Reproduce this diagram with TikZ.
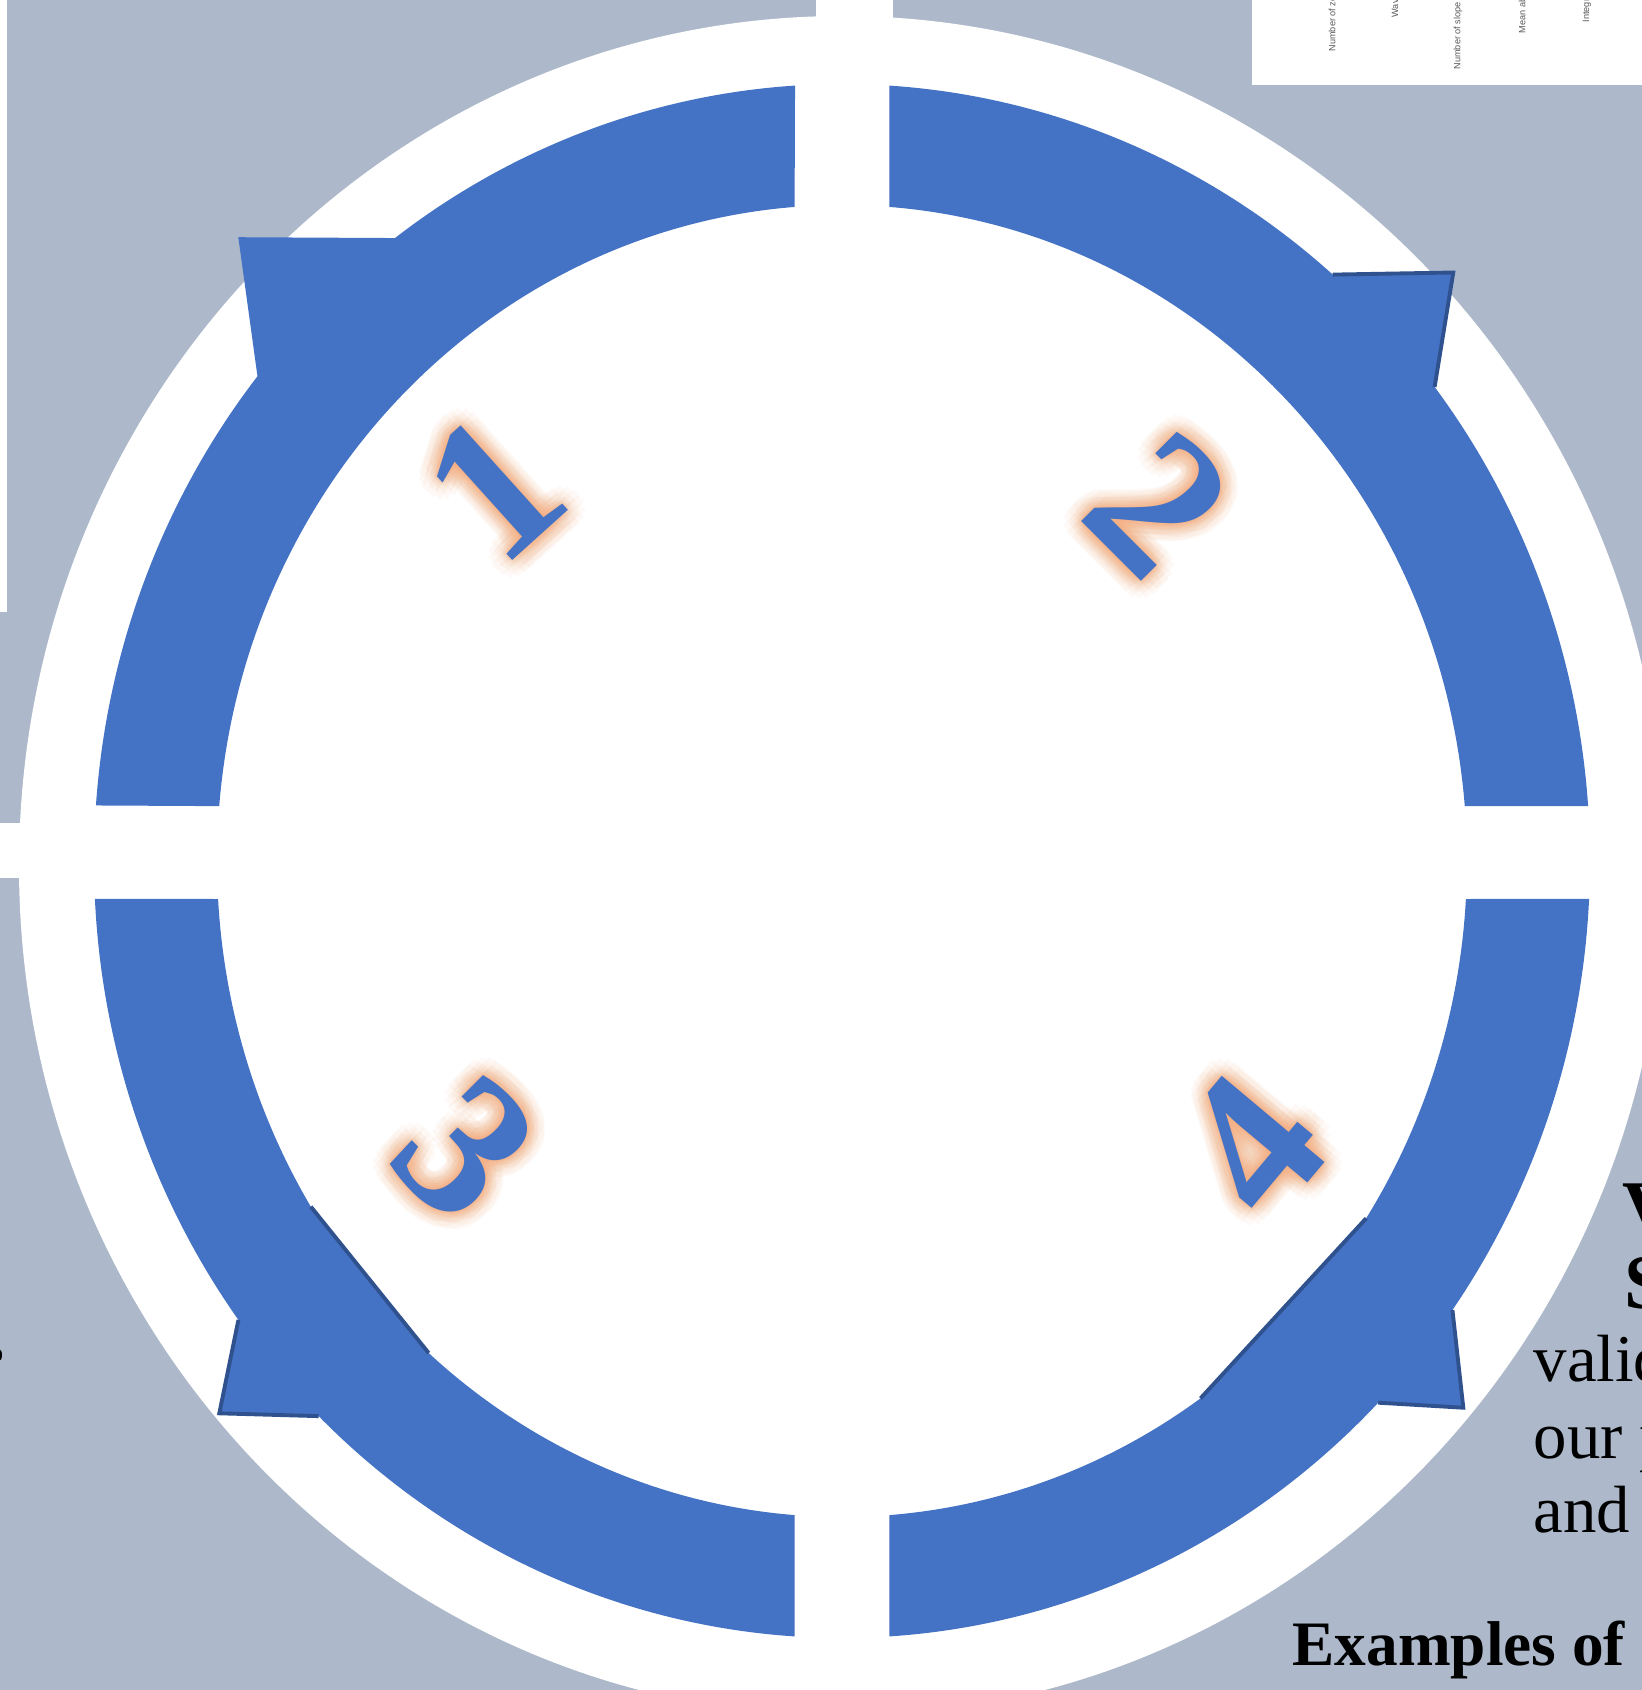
\documentclass[tikz,border=0pt]{standalone}
\usepackage{fontspec}
\setmainfont{Liberation Serif}
\newfontfamily\chartfont{Liberation Sans}
\usepackage{tikz}
\definecolor{bgcol}{HTML}{ADB9CA}
\definecolor{ringcol}{HTML}{4472C4}
\definecolor{edgecol}{HTML}{2F528F}
\definecolor{glowcol}{HTML}{F4B183}
\colorlet{ticklabelcol}{black!65}
\tikzset{
  segment/.style={fill=ringcol},
  rimline/.style={draw=edgecol, line width=1.1pt},
  digit/.style={font=\bfseries\fontsize{58}{58}\selectfont, inner sep=0pt, text=ringcol},
  glow/.style={digit, text=glowcol, opacity=0.065},
  ticklabel/.style={font=\chartfont\fontsize{2.6}{2.6}\selectfont, text=ticklabelcol,
    rotate=90, anchor=west, inner sep=0pt},
  bodytext/.style={font=\fontsize{19}{19}\selectfont, anchor=base west, inner sep=0pt},
  headtext/.style={font=\bfseries\fontsize{22}{22}\selectfont, anchor=base west, inner sep=0pt}
}

\begin{document}
\begin{tikzpicture}[x=0.01cm, y=0.01cm]

  \useasboundingbox (0,0) rectangle (1642,-1690);
  \clip (0,0) rectangle (1642,-1690);

  % Background.
  \fill[bgcol] (0,0) rectangle (1642,-1690);
  \fill[white] (842,-866) ellipse [x radius=823, y radius=850];
  \fill[white] (0,0) rectangle (7,-612);
  \fill[white] (0,-823) rectangle (120,-878);
  \fill[white] (816,0) rectangle (893,-60);
  \fill[black] (-1,-1355) ellipse [x radius=3, y radius=6];

  % Chart scrap, top right.
  \fill[white] (1252,0) rectangle (1642,-85);
  \node[ticklabel] (lab1) at (1332,-52) {Number of zer};
  \node[ticklabel] (lab2) at (1395,-18) {Wave};
  \node[ticklabel] (lab3) at (1458,-70) {Number of slope si};
  \node[ticklabel] (lab4) at (1522,-34) {Mean abs};
  \node[ticklabel] (lab5) at (1587,-23) {Integr};

  % Ring segments.
  \begin{scope}[shift={(842,-861)}]
    % Tab and chord points.
    \coordinate (t2a) at (49:748 and 777);
    \coordinate (t2b) at (37.6:748 and 777);
    \coordinate (t3a) at (216.2:748 and 777);
    \coordinate (t3b) at (225.6:748 and 777);
    \coordinate (c3a) at (211.8:625 and 656);
    \coordinate (c3b) at (228.6:625 and 656);
    \coordinate (t4a) at (-35.3:748 and 777);
    \coordinate (t4b) at (-44.2:748 and 777);
    \coordinate (c4a) at (-33:625 and 656);
    \coordinate (c4b) at (-55:625 and 656);

    % Segment 1 (top left).
    \fill[segment] (93.6:748 and 777)
      arc[start angle=93.6, end angle=126.7, x radius=748, y radius=777]
      -- (-603.7,623.8) -- (141.4:748 and 777)
      arc[start angle=141.4, end angle=175.9, x radius=748, y radius=777]
      -- (175.2:625 and 656)
      arc[start angle=175.2, end angle=94.35, x radius=625, y radius=656] -- cycle;

    % Segment 2 (top right).
    \fill[segment] (86.37:748 and 777)
      arc[start angle=86.37, end angle=49, x radius=748, y radius=777]
      -- (611.3,588.5) -- (t2b)
      arc[start angle=37.6, end angle=4.06, x radius=748, y radius=777]
      -- (4.81:625 and 656)
      arc[start angle=4.81, end angle=85.65, x radius=625, y radius=656] -- cycle;
    \draw[rimline] (t2a) -- (611.3,588.5) -- (t2b);

    % Segment 3 (bottom left).
    \fill[segment] (182.8:748 and 777)
      arc[start angle=182.8, end angle=216.2, x radius=748, y radius=777]
      -- (-622.7,-552.3) -- (t3b)
      arc[start angle=225.6, end angle=266.37, x radius=748, y radius=777]
      -- (265.65:625 and 656)
      arc[start angle=265.65, end angle=228.6, x radius=625, y radius=656]
      -- (c3a)
      arc[start angle=211.8, end angle=183.32, x radius=625, y radius=656] -- cycle;
    \draw[rimline] (t3a) -- (-622.7,-552.3) -- (t3b);
    \draw[rimline] (c3a) -- (c3b);

    % Segment 4 (bottom right).
    \fill[segment] (-2.8:748 and 777)
      arc[start angle=-2.8, end angle=-35.3, x radius=748, y radius=777]
      -- (621.3,-546.7) -- (t4b)
      arc[start angle=-44.2, end angle=-86.37, x radius=748, y radius=777]
      -- (-85.65:625 and 656)
      arc[start angle=-85.65, end angle=-55, x radius=625, y radius=656]
      -- (c4a)
      arc[start angle=-33, end angle=-3.32, x radius=625, y radius=656] -- cycle;
    \draw[rimline] (t4a) -- (621.3,-546.7) -- (t4b);
    \draw[rimline] (c4b) -- (c4a);
  \end{scope}

  % Step numbers with soft glow.
  \foreach \x/\y/\ang/\num in {493/-487/42/1, 1159/-504/-45/2, 466/-1148/-45/3, 1252/-1145/50/4} {
    \foreach \a in {0,24,...,336} {
      \foreach \r in {3,7,12,18} {
        \node[glow, rotate=\ang] (glow\num-\a-\r) at ([shift={(\a:\r)}]\x,\y) {\num};
      }
    }
    \node[digit, rotate=\ang] (num\num) at (\x,\y) {\num};
  }

  % Text on the right, cut by the edge.
  \node[headtext] (head1) at (1622,-1234) {V};
  \node[headtext] (head2) at (1624,-1308) {S};
  \node[bodytext] (line1) at (1533,-1381) {valid};
  \node[bodytext] (line2) at (1533,-1458) {our p};
  \node[bodytext] (line3) at (1533,-1532) {and};
  \node[headtext, font=\bfseries\fontsize{18}{18}\selectfont] (line4) at (1292,-1665) {Examples of};

\end{tikzpicture}
\end{document}
